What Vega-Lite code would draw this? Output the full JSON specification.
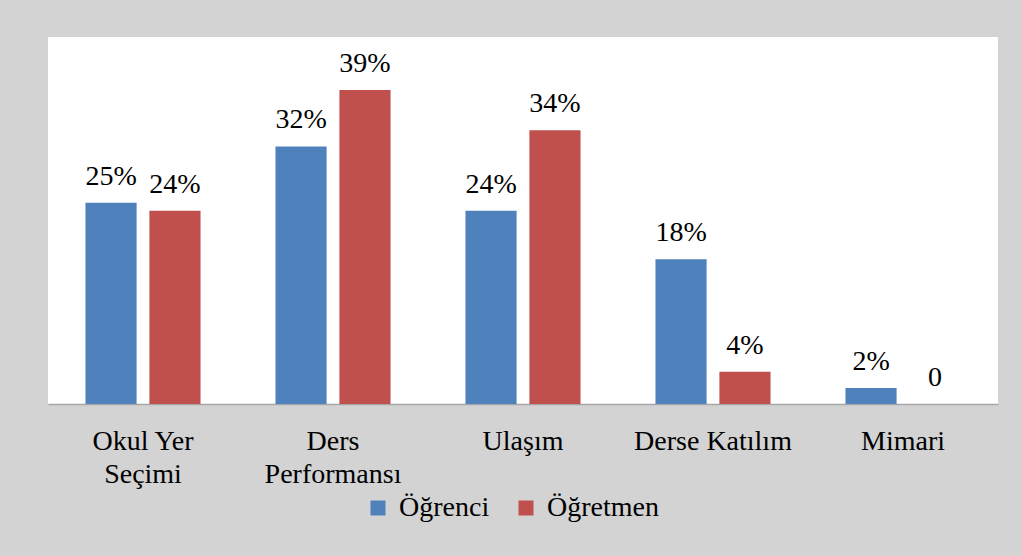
{
  "$schema": "https://vega.github.io/schema/vega-lite/v6.json",
  "width": 950,
  "height": 367,
  "autosize": "none",
  "padding": {"left": 48, "top": 37, "right": 24, "bottom": 152},
  "background": "#d3d3d3",
  "config": {
    "view": {"fill": "white", "stroke": null},
    "font": "Liberation Serif"
  },
  "data": {
    "values": [
      {"kategori": "Okul Yer Seçimi", "grup": "Öğrenci", "deger": 25, "etiket": "25%"},
      {"kategori": "Okul Yer Seçimi", "grup": "Öğretmen", "deger": 24, "etiket": "24%"},
      {"kategori": "Ders Performansı", "grup": "Öğrenci", "deger": 32, "etiket": "32%"},
      {"kategori": "Ders Performansı", "grup": "Öğretmen", "deger": 39, "etiket": "39%"},
      {"kategori": "Ulaşım", "grup": "Öğrenci", "deger": 24, "etiket": "24%"},
      {"kategori": "Ulaşım", "grup": "Öğretmen", "deger": 34, "etiket": "34%"},
      {"kategori": "Derse Katılım", "grup": "Öğrenci", "deger": 18, "etiket": "18%"},
      {"kategori": "Derse Katılım", "grup": "Öğretmen", "deger": 4, "etiket": "4%"},
      {"kategori": "Mimari", "grup": "Öğrenci", "deger": 2, "etiket": "2%"},
      {"kategori": "Mimari", "grup": "Öğretmen", "deger": 0, "etiket": "0"}
    ]
  },
  "encoding": {
    "x": {
      "field": "kategori",
      "type": "nominal",
      "sort": ["Okul Yer Seçimi", "Ders Performansı", "Ulaşım", "Derse Katılım", "Mimari"],
      "scale": {"paddingInner": 0, "paddingOuter": 0},
      "title": null,
      "axis": {
        "labelAngle": 0,
        "labelFontSize": 28,
        "labelColor": "black",
        "labelFont": "Liberation Serif",
        "labelPadding": 23,
        "labelLineHeight": 33,
        "labelBaseline": "top",
        "ticks": false,
        "domainColor": "#a6a6a6",
        "domainWidth": 1.5,
        "labelExpr": "datum.value == 'Okul Yer Seçimi' ? ['Okul Yer', 'Seçimi'] : datum.value == 'Ders Performansı' ? ['Ders', 'Performansı'] : datum.label"
      }
    },
    "xOffset": {
      "field": "grup",
      "type": "nominal",
      "sort": ["Öğrenci", "Öğretmen"],
      "scale": {"paddingInner": 0.2, "paddingOuter": 0.586}
    },
    "y": {
      "field": "deger",
      "type": "quantitative",
      "scale": {"domain": [0, 45.6], "nice": false, "zero": true},
      "axis": null
    }
  },
  "layer": [
    {
      "mark": {"type": "bar"},
      "encoding": {
        "color": {
          "field": "grup",
          "type": "nominal",
          "sort": ["Öğrenci", "Öğretmen"],
          "scale": {"domain": ["Öğrenci", "Öğretmen"], "range": ["#4f81bd", "#c0504d"]},
          "legend": {
            "title": null,
            "orient": "none",
            "direction": "horizontal",
            "legendX": 316,
            "legendY": 457,
            "padding": 0,
            "symbolType": "square",
            "symbolSize": 225,
            "symbolStrokeWidth": 0,
            "labelFontSize": 28,
            "labelFont": "Liberation Serif",
            "labelColor": "black",
            "labelOffset": 7,
            "columnPadding": 22
          }
        }
      }
    },
    {
      "mark": {"type": "text", "baseline": "alphabetic", "dy": -18, "fontSize": 28, "color": "black", "font": "Liberation Serif"},
      "encoding": {"text": {"field": "etiket"}}
    }
  ]
}
